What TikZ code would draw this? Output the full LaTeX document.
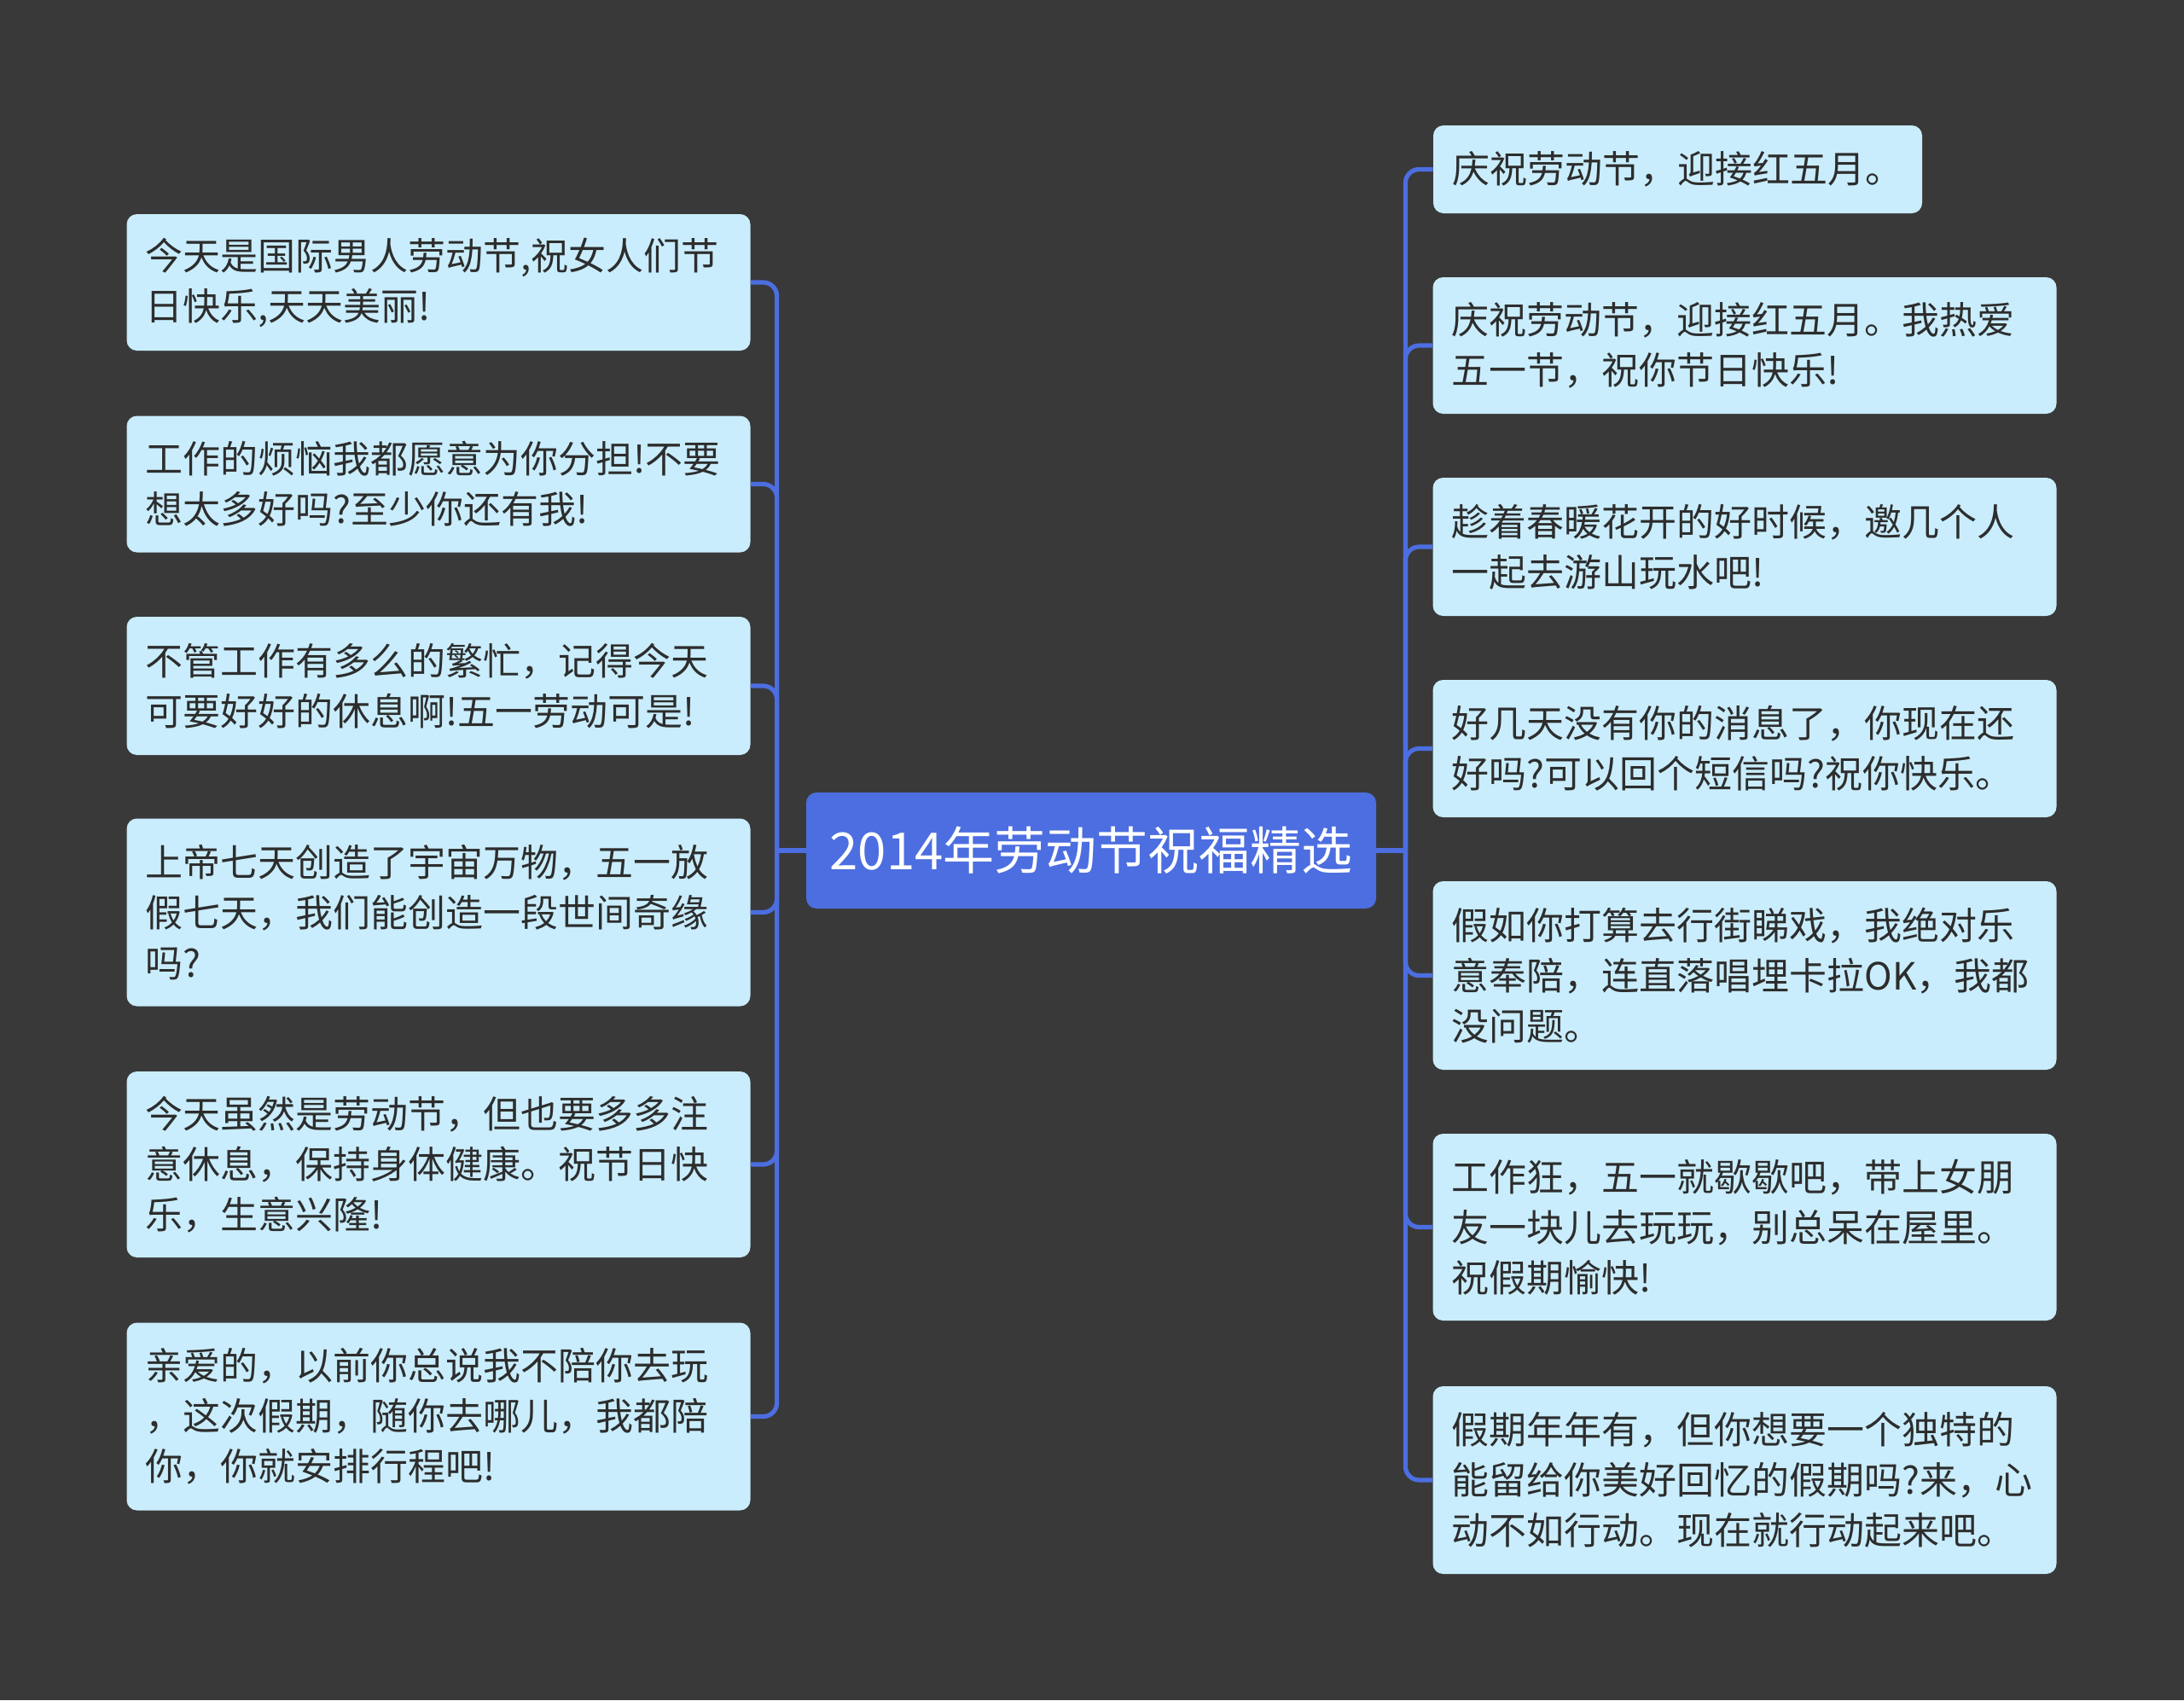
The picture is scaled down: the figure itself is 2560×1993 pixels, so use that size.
\documentclass[tikz,border=0pt]{standalone}
\usepackage{fontspec}
\setmainfont{Noto Sans CJK SC}
\usepackage{tikz}
\usetikzlibrary{positioning}
\definecolor{mapbg}{RGB}{57,57,58}
\definecolor{mapblue}{RGB}{76,110,224}
\definecolor{leafbg}{RGB}{201,237,252}
\definecolor{leaftext}{RGB}{45,45,45}

\begin{document}
\begin{tikzpicture}[
  x=0.5pt, y=-0.5pt,
  every node/.style={font=\fontsize{22pt}{29.5pt}\selectfont},
  leaf/.style={fill=leafbg, text=leaftext, rounded corners=6pt, align=left, text width=343.5pt, inner xsep=11pt, inner ysep=0pt, minimum width=365.5pt},
  hubbox/.style={fill=mapblue, text=white, rounded corners=6pt, minimum width=334pt, minimum height=68pt, font=\fontsize{30pt}{36pt}\selectfont},
  link/.style={draw=mapblue, line width=2.6pt, rounded corners=8pt}
]
  \fill[mapbg] (0,0) rectangle (2560,1993);

  \node[hubbox] (hub) at (1279,997) {2014年劳动节祝福精选};

  % left side
  \node[leaf, minimum height=80pt]  (l1) at (514,331)    {今天是国际男人劳动节,祝女人们节\\日快乐,天天美丽!};
  \node[leaf, minimum height=80pt]  (l2) at (514,567.5)  {工作的烦恼我都愿意为你分担!不要\\想太多好吗?至少你还有我!};
  \node[leaf, minimum height=81pt]  (l3) at (514,804)    {不管工作有多么的繁忙，记得今天\\可要好好的休息啊!五一劳动可是!};
  \node[leaf, minimum height=110pt] (l4) at (514,1069.5) {上帝七天创造了宇宙万物，五一放\\假七天，我们能创造一段世间奇缘\\吗?};
  \node[leaf, minimum height=109pt] (l5) at (514,1365)   {今天虽然是劳动节，但也要多多注\\意休息，保持身体健康。祝节日快\\乐，生意兴隆!};
  \node[leaf, minimum height=110pt] (l6) at (514,1660.5) {亲爱的，以前你总说我不陪你去玩\\，这次假期，随你去哪儿，我都陪\\你，你就安排行程吧!};

  % right side
  \node[leaf, minimum height=51.5pt, text width=264.5pt, minimum width=286.5pt] (r1) at (1966.5,198.5) {庆祝劳动节，迎接红五月。};
  \node[leaf, minimum height=80pt]  (r2) at (2045,405)    {庆祝劳动节，迎接红五月。我热爱\\五一节，祝你节日快乐!};
  \node[leaf, minimum height=81pt]  (r3) at (2045,641)    {趁着春暖花开的好时候，邀几个人\\一起去游山玩水吧!};
  \node[leaf, minimum height=80.5pt] (r4) at (2045,877.5) {好几天没有你的消息了，你现在还\\好吗?可以回个短信吗?祝你快乐。};
  \node[leaf, minimum height=110.5pt] (r5) at (2045,1143.5) {假如你打算去行街睇戏，我绝对乐\\意奉陪，连直落唱埋卡拉OK，我都\\没问题。};
  \node[leaf, minimum height=109.5pt] (r6) at (2045,1438.5) {工作狂，五一就歇歇吧，带上女朋\\友一块儿去玩玩，别总呆在屋里。\\祝假期愉快!};
  \node[leaf, minimum height=110pt] (r7) at (2045,1735)   {假期年年有，但你想要一个独特的\\能留给你美好回忆的假期吗?来，心\\动不如行动。现在就行动起来吧。};

  \path (hub.west) ++(-34,0) coordinate (lj);
  \path (hub.east) ++(34,0) coordinate (rj);
  \draw[link] (hub.west) -- (lj);
  \draw[link] (hub.east) -- (rj);
  \foreach \n in {l1,l2,l3,l4,l5,l6}
    \draw[link] (lj) |- (\n.east);
  \foreach \n in {r1,r2,r3,r4,r5,r6,r7}
    \draw[link] (rj) |- (\n.west);
\end{tikzpicture}
\end{document}
